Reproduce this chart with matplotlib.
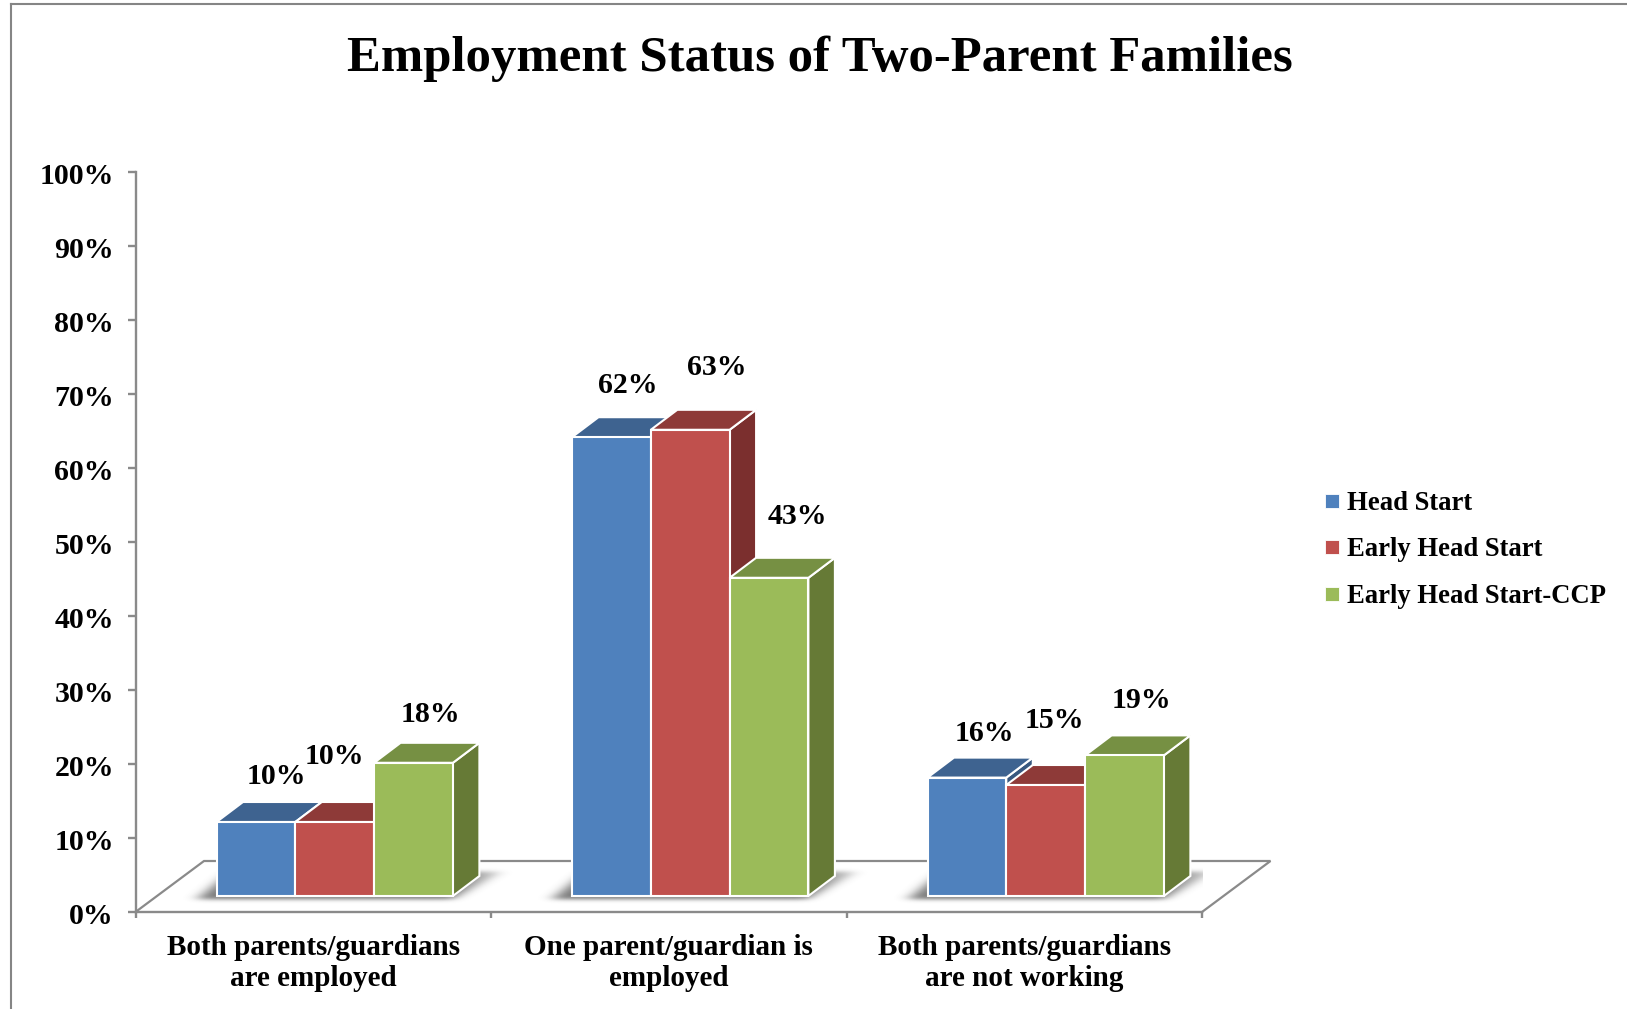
import matplotlib
matplotlib.use("Agg")
import matplotlib.pyplot as plt
import numpy as np
from matplotlib.colors import to_rgb
from matplotlib.lines import Line2D
from matplotlib.patches import Polygon
from matplotlib.transforms import ScaledTranslation

# Chart values
categories = ["Both parents/guardians\nare employed",
              "One parent/guardian is\nemployed",
              "Both parents/guardians\nare not working"]
series_names = ["Head Start", "Early Head Start", "Early Head Start-CCP"]
head_start = [10, 62, 16]
early_head_start = [10, 63, 15]
early_head_start_ccp = [18, 43, 19]
y_ticks = list(range(0, 101, 10))
title_text = "Employment Status of Two-Parent Families"

# Label offsets from the top centre of each front face, in pixels
label_offsets = [
    [(20, 45), (0, 66), (17, 48)],
    [(16, 52), (27, 62), (28, 61)],
    [(17, 44), (9, 65), (17, 55)],
]

W, H = 1627, 1009
FONT = ["Liberation Serif", "DejaVu Serif"]
GREY = "#8a8a8a"
FACE = ["#4F81BD", "#C0504D", "#9BBB59"]
TOP = ["#3E6390", "#8E3A38", "#769043"]
SIDE = ["#38587F", "#7B2F2E", "#667A36"]

AX_L, AX_R, AX_B, AX_T = 135.5, 1202.0, 912.0, 172.0
UX = 3 / (AX_R - AX_L)   # data units per pixel, horizontal
UY = 100 / (AX_B - AX_T)  # data units per pixel, vertical

fig = plt.figure(figsize=(W / 100, H / 100), dpi=100, facecolor="white")
ax = fig.add_axes([AX_L / W, (H - AX_B) / H, (AX_R - AX_L) / W, (AX_B - AX_T) / H])
ax.patch.set_visible(False)

# Outer chart frame, running off the right and bottom of the canvas
frame = dict(color="#858585", lw=1.5, transform=fig.transFigure)
fig.add_artist(Line2D([10.5 / W, 10.5 / W], [0, 1 - 3.5 / H], **frame))
fig.add_artist(Line2D([10.5 / W, 1], [1 - 3.5 / H, 1 - 3.5 / H], **frame))

# Floor of the 3-D plot
floor_dx, floor_dy = 68.5 * UX, 51 * UY
ax.plot([0, floor_dx, 3 + floor_dx, 3], [0, floor_dy, floor_dy, 0],
        color=GREY, lw=1.6, clip_on=False, zorder=1, solid_joinstyle="miter")

# Bar geometry
LIFT = 16 * UY
BAR_W = 78.8 * UX
BAR_START = 81 * UX
DX, DY = 26.5 * UX, 20 * UY


def blur(img, sigma, axis):
    r = int(3 * sigma)
    kernel = np.exp(-0.5 * (np.arange(-r, r + 1) / sigma) ** 2)
    kernel /= kernel.sum()
    return np.apply_along_axis(lambda row: np.convolve(row, kernel, mode="same"), axis, img)


def floor_shadow(x0, x1):
    """Blurred contact shadow on the floor beneath one cluster of bars."""
    px_w = int((x1 - x0) / UX)
    xs = np.arange(-50, px_w + 90)
    hs = np.arange(-16, 46)
    gx, gh = np.meshgrid(xs, hs)
    mask = (gh >= -3.5) & (gh <= 24) & (gx >= -16 + 1.2 * gh) & (gx <= px_w + 6 + 1.8 * gh)
    soft = blur(blur(mask.astype(float), 7.0, 1), 2.0, 0)
    fade = np.clip(1 - (gx - px_w) / 75, 0.25, 1)
    rgba = np.zeros(soft.shape + (4,))
    rgba[..., :3] = to_rgb("#3c3c3c")
    rgba[..., 3] = 0.68 * soft * fade
    ax.imshow(rgba, origin="lower", aspect="auto", interpolation="bilinear", zorder=1.5,
              extent=(x0 + xs[0] * UX, x0 + xs[-1] * UX, LIFT + hs[0] * UY, LIFT + hs[-1] * UY))


for g in range(3):
    start = g + BAR_START
    floor_shadow(start, start + 3 * BAR_W)

# Bars, painted left to right so nearer faces overlap correctly
values = [head_start, early_head_start, early_head_start_ccp]
edge = dict(ec="white", lw=1.5, joinstyle="miter")
z = 2
for g in range(3):
    for s in range(3):
        v = values[s][g]
        x = g + BAR_START + s * BAR_W
        top = v + LIFT
        ax.add_patch(Polygon([(x + BAR_W, LIFT), (x + BAR_W + DX, LIFT + DY),
                              (x + BAR_W + DX, top + DY), (x + BAR_W, top)],
                             closed=True, fc=SIDE[s], zorder=z, **edge))
        ax.add_patch(Polygon([(x, top), (x + DX, top + DY),
                              (x + BAR_W + DX, top + DY), (x + BAR_W, top)],
                             closed=True, fc=TOP[s], zorder=z, **edge))
        ax.bar(x, v, BAR_W, bottom=LIFT, align="edge", color=FACE[s], zorder=z + 0.1, **edge)
        dx, dy = label_offsets[g][s]
        ax.annotate(f"{v}%", (x + BAR_W / 2, top), xytext=(dx, dy),
                    textcoords="offset pixels", ha="center", va="center",
                    family=FONT, weight="bold", fontsize=21.5, color="black", zorder=20)
        z += 0.5

ax.set_xlim(0, 3)
ax.set_ylim(0, 100)

# Axes
for name in ("top", "right"):
    ax.spines[name].set_visible(False)
for name in ("left", "bottom"):
    ax.spines[name].set_color(GREY)
    ax.spines[name].set_linewidth(1.7)
ax.set_yticks(y_ticks)
ax.set_yticklabels([f"{t}%" for t in y_ticks], family=FONT, weight="bold", fontsize=21.5)
ax.tick_params(axis="y", direction="out", length=5.5, width=1.7, color=GREY, pad=10)
down = ScaledTranslation(0, -1 / 100, fig.dpi_scale_trans)
for lab in ax.get_yticklabels():
    lab.set_transform(lab.get_transform() + down)
ax.set_xticks([0, 1, 2, 3])
ax.set_xticklabels([])
ax.tick_params(axis="x", which="major", direction="out", length=4.5, width=1.7, color=GREY)
ax.set_xticks([0.5, 1.5, 2.5], minor=True)
ax.set_xticklabels(categories, minor=True, family=FONT, weight="bold", fontsize=21,
                   linespacing=1.2, ha="center", va="top")
ax.tick_params(axis="x", which="minor", length=0, pad=16)

# Title
fig.text(820 / W, 1 - 59 / H, title_text, ha="center", va="center",
         family=FONT, weight="bold", fontsize=36.5, color="black")

# Legend
handles = [Line2D([], [], ls="none", marker="s", ms=9.5, mfc=c, mec="white", mew=0.6)
           for c in FACE]
fig.legend(handles, series_names, loc="center left",
           bbox_to_anchor=(1319 / W, 1 - 550 / H), frameon=False,
           prop=dict(family=FONT, weight="bold", size=19.2),
           handlelength=1.0, handletextpad=0.06, labelspacing=0.81, borderpad=0, borderaxespad=0)

fig.savefig("out.png", dpi=100, facecolor="white")
